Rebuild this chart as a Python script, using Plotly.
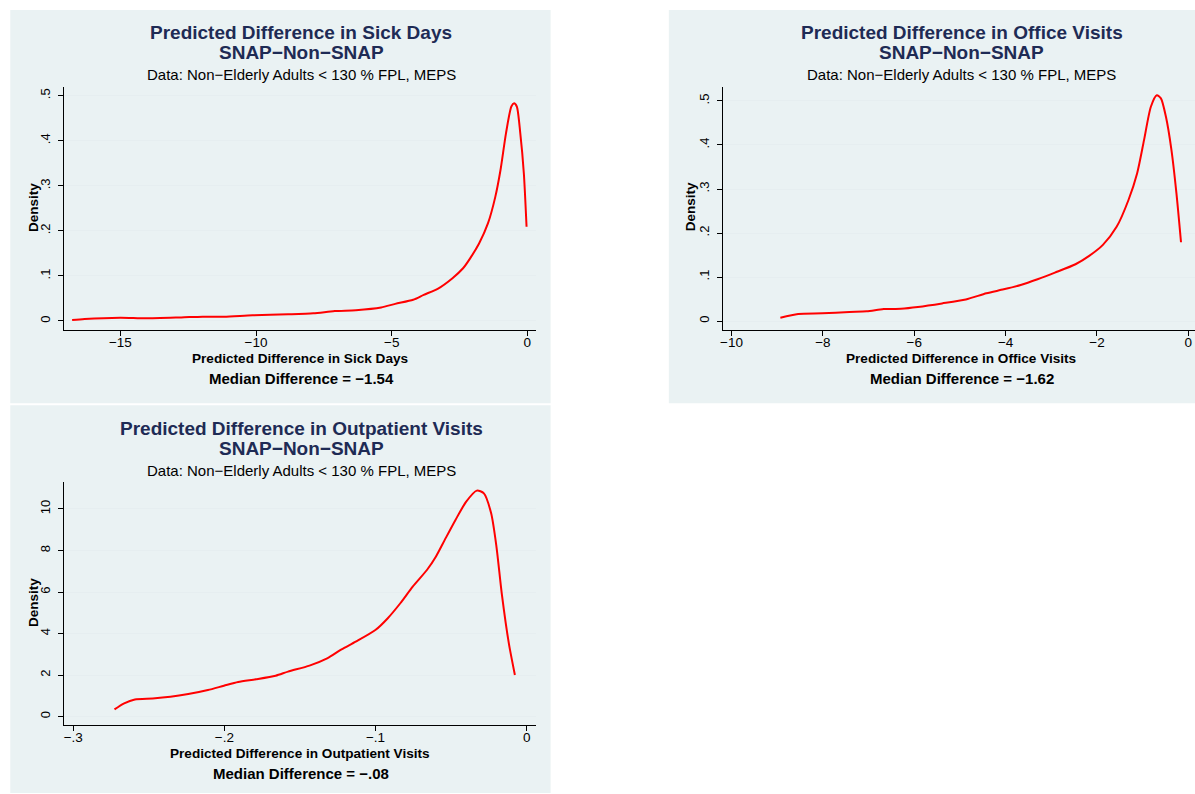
import plotly.graph_objects as go

W, H = 1195, 794

# ---------------- data ----------------
sick_x = [-16.78, -16.32, -15.0, -14.08, -12.76, -11.97, -11.18, -10.13, -8.82, -7.89,
          -7.10, -6.32, -5.39, -4.87, -4.21, -3.82, -3.29, -2.76, -2.37, -2.11,
          -1.78, -1.45, -1.18, -0.99, -0.79, -0.59, -0.49, -0.39, -0.26, -0.13, -0.03]
sick_y = [0.002, 0.0044, 0.0074, 0.006, 0.008, 0.0096, 0.0096, 0.0126, 0.0148, 0.017,
          0.022, 0.024, 0.030, 0.038, 0.047, 0.058, 0.072, 0.095, 0.117, 0.139,
          0.172, 0.217, 0.276, 0.335, 0.416, 0.476, 0.483, 0.476, 0.416, 0.328, 0.209]

office_x = [-8.93, -8.54, -8.01, -7.42, -7.04, -6.67, -6.29, -5.92, -5.39, -4.87,
            -4.42, -4.04, -3.67, -3.30, -2.92, -2.47, -2.17, -1.87, -1.57, -1.31,
            -1.12, -0.97, -0.82, -0.69, -0.60, -0.49, -0.37, -0.26, -0.16]
office_y = [0.0076, 0.016, 0.0174, 0.0205, 0.022, 0.027, 0.028, 0.032, 0.040, 0.049,
            0.063, 0.072, 0.082, 0.095, 0.110, 0.129, 0.148, 0.173, 0.214, 0.275,
            0.336, 0.411, 0.487, 0.513, 0.506, 0.464, 0.389, 0.290, 0.179]

outp_x = [-0.2727, -0.2663, -0.2592, -0.2474, -0.2357, -0.2239, -0.2109, -0.2003, -0.1909, -0.1791,
          -0.1661, -0.1579, -0.1437, -0.1320, -0.1225, -0.1131, -0.1001, -0.0919, -0.0836, -0.0754,
          -0.0660, -0.0601, -0.0542, -0.0471, -0.0400, -0.0330, -0.0283, -0.0235, -0.0200, -0.0165,
          -0.0118, -0.0078]
outp_y = [0.35, 0.64, 0.83, 0.88, 0.96, 1.09, 1.28, 1.49, 1.67, 1.80,
          1.97, 2.17, 2.46, 2.81, 3.24, 3.61, 4.17, 4.74, 5.46, 6.26,
          7.06, 7.70, 8.51, 9.47, 10.35, 10.88, 10.75, 9.79, 8.19, 5.94,
          3.53, 2.01]

titles = ["Predicted Difference in Sick Days",
          "Predicted Difference in Office Visits",
          "Predicted Difference in Outpatient Visits"]
title2 = "SNAP\u2212Non\u2212SNAP"
subtitle = "Data: Non\u2212Elderly Adults < 130 % FPL, MEPS"
xtitles = ["Predicted Difference in Sick Days",
           "Predicted Difference in Office Visits",
           "Predicted Difference in Outpatient Visits"]
notes = ["Median Difference = \u22121.54",
         "Median Difference = \u22121.62",
         "Median Difference = \u2212.08"]
ytitle = "Density"

sick_xticks = [-15, -10, -5, 0]
sick_xlabels = ["\u221215", "\u221210", "\u22125", "0"]
sick_yticks = [0, 0.1, 0.2, 0.3, 0.4, 0.5]
sick_ylabels = ["0", ".1", ".2", ".3", ".4", ".5"]

office_xticks = [-10, -8, -6, -4, -2, 0]
office_xlabels = ["\u221210", "\u22128", "\u22126", "\u22124", "\u22122", "0"]
office_yticks = [0, 0.1, 0.2, 0.3, 0.4, 0.5]
office_ylabels = ["0", ".1", ".2", ".3", ".4", ".5"]

outp_xticks = [-0.3, -0.2, -0.1, 0]
outp_xlabels = ["\u2212.3", "\u2212.2", "\u2212.1", "0"]
outp_yticks = [0, 2, 4, 6, 8, 10]
outp_ylabels = ["0", "2", "4", "6", "8", "10"]

# ---------------- styling / layout ----------------
FONT = "Liberation Sans, Arial, Helvetica, sans-serif"
BG = "#EAF2F3"
GRID = "#E6EEF0"
NAVY = "#1E2B55"
RED = "#FF0000"


def px_x(p):
    return p / W


def px_y(p):
    return 1 - p / H


panels = [
    dict(bg=(7.3, 10, 549, 403.3), dom=(61.4, 87, 534.5, 330),
         xr=[-17.07, 0.324], yr=[-0.020, 0.5193],
         x=sick_x, y=sick_y, xt=sick_xticks, xl=sick_xlabels, yt=sick_yticks, yl=sick_ylabels,
         cx=299, tt=(33, 52, 75), xty=358, noty=378, yx=30, yy=207),
    dict(bg=(667.5, 10, 1195, 403.3), dom=(721.7, 87, 1195, 330),
         xr=[-10.188, 0.146], yr=[-0.02045, 0.5318],
         x=office_x, y=office_y, xt=office_xticks, xl=office_xlabels, yt=office_yticks, yl=office_ylabels,
         cx=961, tt=(33, 52, 75), xty=358, noty=378, yx=689, yy=207),
    dict(bg=(7.3, 405.3, 549, 793), dom=(61.4, 481.7, 534.5, 725),
         xr=[-0.30594, 0.00627], yr=[-0.40, 11.31],
         x=outp_x, y=outp_y, xt=outp_xticks, xl=outp_xlabels, yt=outp_yticks, yl=outp_ylabels,
         cx=299, tt=(428, 448, 470), xty=753, noty=773, yx=30, yy=602),
]

fig = go.Figure()
shapes = []
annotations = []
layout_axes = {}

for i, p in enumerate(panels):
    n = "" if i == 0 else str(i + 1)
    xa, ya = "x" + n, "y" + n
    fig.add_trace(go.Scatter(x=p["x"], y=p["y"], mode="lines", xaxis=xa, yaxis=ya,
                             line=dict(color=RED, width=2, shape="spline", smoothing=0.7),
                             showlegend=False, hoverinfo="x+y"))
    x0, y0, x1, y1 = p["dom"]
    layout_axes["xaxis" + n] = dict(
        domain=[px_x(x0), px_x(x1)], anchor=ya, range=p["xr"],
        tickmode="array", tickvals=p["xt"], ticktext=p["xl"],
        showline=True, linecolor="#000000", linewidth=1, mirror=False,
        ticks="outside", ticklen=5, tickcolor="#000000", tickwidth=1,
        ticklabelstandoff=-5,
        showgrid=False, zeroline=False,
        tickfont=dict(family=FONT, size=13.5, color="#000000"), fixedrange=True)
    layout_axes["yaxis" + n] = dict(
        domain=[px_y(y1), px_y(y0)], anchor=xa, range=p["yr"],
        tickmode="array", tickvals=p["yt"], ticktext=p["yl"], tickangle=-90,
        showline=True, linecolor="#000000", linewidth=1, mirror=False,
        ticks="outside", ticklen=5, tickcolor="#000000", tickwidth=1,
        ticklabelstandoff=3,
        showgrid=True, gridcolor=GRID, gridwidth=1, zeroline=False,
        tickfont=dict(family=FONT, size=13, color="#000000"), fixedrange=True)

    bx0, by0, bx1, by1 = p["bg"]
    shapes.append(dict(type="rect", xref="paper", yref="paper", layer="below",
                       x0=px_x(bx0), x1=px_x(bx1), y0=px_y(by1), y1=px_y(by0),
                       fillcolor=BG, line=dict(width=0)))

    t1, t2, t3 = p["tt"]
    annotations += [
        dict(text="<b>" + titles[i] + "</b>", x=px_x(p["cx"]), y=px_y(t1),
             font=dict(family=FONT, size=19, color=NAVY)),
        dict(text="<b>" + title2 + "</b>", x=px_x(p["cx"]), y=px_y(t2),
             font=dict(family=FONT, size=19, color=NAVY)),
        dict(text=subtitle, x=px_x(p["cx"]), y=px_y(t3),
             font=dict(family=FONT, size=15, color="#000000")),
        dict(text="<b>" + xtitles[i] + "</b>", x=px_x(p["cx"] - 1), y=px_y(p["xty"]),
             font=dict(family=FONT, size=13.6, color="#000000")),
        dict(text="<b>" + notes[i] + "</b>", x=px_x(p["cx"]), y=px_y(p["noty"]),
             font=dict(family=FONT, size=15, color="#000000")),
        dict(text="<b>" + ytitle + "</b>", x=px_x(p["yx"]), y=px_y(p["yy"]), textangle=-90,
             font=dict(family=FONT, size=13.5, color="#000000")),
    ]

for a in annotations:
    a.update(xref="paper", yref="paper", showarrow=False, xanchor="center", yanchor="middle")

fig.update_layout(
    width=W, height=H, autosize=False,
    margin=dict(l=0, r=0, t=0, b=0, pad=0),
    paper_bgcolor="#FFFFFF", plot_bgcolor="#FFFFFF",
    shapes=shapes, annotations=annotations,
    font=dict(family=FONT, color="#000000"),
    showlegend=False,
    **layout_axes,
)

fig.write_html("out.html", include_plotlyjs=True, full_html=True,
               config={"displayModeBar": False, "staticPlot": False},
               post_script="document.body.style.margin='0';document.body.style.overflow='hidden';")
